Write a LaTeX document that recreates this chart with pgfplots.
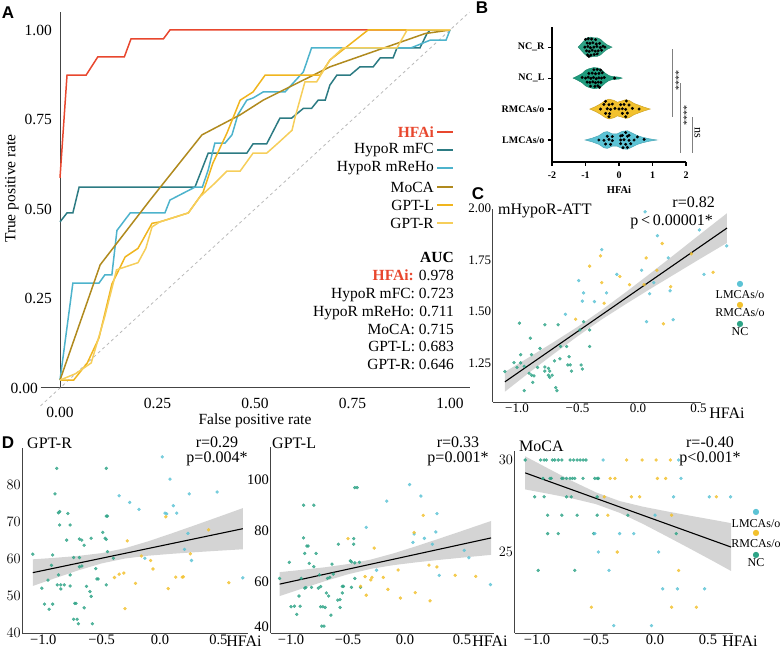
\documentclass[border=0pt]{standalone}
\usepackage{pgfplots}
\pgfplotsset{compat=1.18}
\usepackage{fontspec}
\setmainfont{Liberation Serif}
\newfontfamily\panelfont{Liberation Sans}
\newfontfamily\symfont{DejaVu Sans}

\definecolor{hfai}{HTML}{E8472E}
\definecolor{mfc}{HTML}{2C7B83}
\definecolor{mreho}{HTML}{4DB3CC}
\definecolor{moca}{HTML}{B08A1E}
\definecolor{gptl}{HTML}{F0B51E}
\definecolor{gptr}{HTML}{F6CE5A}
\definecolor{ncg}{HTML}{2FA487}
\definecolor{ncl}{HTML}{1F9C7E}
\definecolor{rmca}{HTML}{F2C12E}
\definecolor{lmca}{HTML}{5CC3D5}
\definecolor{axisgray}{HTML}{444444}

\pgfplotsset{
  scatterpt/.style={only marks, mark=*, mark size=1.5pt, color=#1, opacity=0.8},
  band/.style={fill=gray!45, fill opacity=0.75, draw=none},
  regline/.style={black, line width=1.1pt},
}

\begin{document}
\begin{tikzpicture}[x=1pt,y=1pt]
\useasboundingbox (0,0) rectangle (780,650);

% ---------------- panel letters
\begin{scope}[every node/.style={font=\panelfont\bfseries\fontsize{17}{17}\selectfont}]
\node at (8,637) {A};
\node at (482,642) {B};
\node at (478,456) {C};
\node at (8,207) {D};
\end{scope}

% ================= A: ROC curves =================
\begin{axis}[
  at={(40.5pt,244.1pt)}, anchor=south west, scale only axis,
  width=429pt, height=393.8pt,
  xmin=-0.05, xmax=1.05, ymin=-0.05, ymax=1.05,
  axis line style={draw=none}, major tick length=0pt,
  xtick={0.25,0.5,0.75,1}, xticklabels={0.25,0.50,0.75,1.00},
  ytick={0.25,0.5,0.75,1}, yticklabels={0.25,0.50,0.75,1.00},
  extra x ticks={0}, extra x tick labels={0.00},
  extra y ticks={0}, extra y tick labels={0.00},
  extra x tick style={xticklabel style={yshift=-9pt}},
  extra y tick style={yticklabel style={xshift=-14pt}},
  ticklabel style={font=\fontsize{15.5}{18}\selectfont, inner sep=0pt},
  xticklabel style={anchor=north, yshift=8.4pt},
  yticklabel style={anchor=east, xshift=11.5pt},
  xlabel={False positive rate}, ylabel={True positive rate},
  every axis x label/.style={at={(axis description cs:0.5,0)}, anchor=north, yshift=-7.5pt,
    inner sep=0pt, font=\fontsize{15.5}{18}\selectfont},
  every axis y label/.style={at={(axis description cs:-0.0664,0.552)}, rotate=90, anchor=center,
    inner sep=0pt, font=\fontsize{15.5}{18}\selectfont},
  clip=false,
  every axis plot/.append style={line width=1.5pt},
]
\draw[axisgray, line width=1pt] (axis cs:0,0) -- (axis cs:0,1.05);
\draw[axisgray, line width=1pt] (axis cs:-0.05,0) -- (axis cs:1.05,0);
\addplot[gray!55, dashed, line width=0.8pt] coordinates {(-0.05,-0.05) (1.05,1.05)};

% HFAi
\addplot[color=hfai] coordinates {(0,0.587)(0.018,0.874)(0.067,0.874)(0.097,0.925)(0.165,0.925)(0.182,0.975)(0.265,0.975)(0.282,1)(1,1)};
% HypoR mFC
\addplot[color=mfc] coordinates {(0,0.464)(0.018,0.489)(0.033,0.489)(0.049,0.561)(0.346,0.561)(0.38,0.656)(0.479,0.656)(0.495,0.682)(0.53,0.682)(0.564,0.754)(0.594,0.754)(0.624,0.781)(0.645,0.781)(0.662,0.804)(0.68,0.804)(0.692,0.846)(0.71,0.874)(0.744,0.874)(0.769,0.897)(0.803,0.897)(0.821,0.922)(0.854,0.922)(0.864,0.95)(0.923,0.95)(0.941,0.99)(0.949,1)(1,1)};
% HypoR mReHo
\addplot[color=mreho] coordinates {(0,0.022)(0.033,0.293)(0.1,0.293)(0.115,0.316)(0.133,0.316)(0.146,0.44)(0.18,0.489)(0.269,0.489)(0.282,0.525)(0.346,0.561)(0.365,0.561)(0.38,0.609)(0.397,0.684)(0.423,0.684)(0.441,0.707)(0.456,0.763)(0.479,0.804)(0.495,0.81)(0.521,0.827)(0.577,0.827)(0.624,0.883)(0.645,0.95)(0.90,0.95)(0.95,0.972)(0.99,0.972)(1,1)};
% MoCA
\addplot[color=moca] coordinates {(0,0.022)(0.103,0.344)(0.231,0.525)(0.364,0.707)(0.462,0.763)(0.521,0.804)(0.692,0.897)(0.936,0.99)(1,1)};
% GPT-L
\addplot[color=gptl] coordinates {(0,0.022)(0.035,0.022)(0.07,0.07)(0.10,0.14)(0.133,0.29)(0.167,0.366)(0.2,0.39)(0.236,0.46)(0.256,0.464)(0.329,0.489)(0.367,0.547)(0.392,0.628)(0.428,0.712)(0.462,0.804)(0.495,0.827)(0.526,0.874)(0.667,0.874)(0.692,0.916)(0.79,1)(1,1)};
% GPT-R
\addplot[color=gptr] coordinates {(0,0.022)(0.04,0.04)(0.08,0.07)(0.115,0.2)(0.145,0.33)(0.2,0.35)(0.22,0.39)(0.236,0.45)(0.256,0.464)(0.329,0.489)(0.359,0.534)(0.397,0.572)(0.428,0.606)(0.462,0.606)(0.495,0.656)(0.53,0.656)(0.559,0.684)(0.595,0.72)(0.603,0.757)(0.615,0.804)(0.628,0.855)(0.658,0.855)(0.692,0.916)(0.726,0.95)(0.864,0.95)(0.89,1)(1,1)};
\end{axis}

% legend of the ROC curves (text, then key on the right)
\begin{scope}[every node/.style={anchor=east, inner sep=0pt, font=\fontsize{15.5}{18}\selectfont}]
\node at (434,518) {\textcolor{hfai}{\textbf{HFAi}}};
\draw[hfai, line width=1.5pt] (437,518) -- (453,518);
\node at (434,500) {HypoR mFC};
\draw[mfc, line width=1.5pt] (437,500) -- (453,500);
\node at (434,482) {HypoR mReHo};
\draw[mreho, line width=1.5pt] (437,482) -- (453,482);
\node at (434,463) {MoCA};
\draw[moca, line width=1.5pt] (437,463) -- (453,463);
\node at (434,445) {GPT-L};
\draw[gptl, line width=1.5pt] (437,445) -- (453,445);
\node at (434,427) {GPT-R};
\draw[gptr, line width=1.5pt] (437,427) -- (453,427);
\end{scope}

% AUC summary
\node[anchor=north east, align=right, inner sep=0pt, font=\fontsize{15.5}{17.9}\selectfont] at (454,398)
  {\textbf{AUC}\\ \textcolor{hfai}{\textbf{HFAi:}} 0.978\\ HypoR mFC: 0.723\\ HypoR mReHo: 0.711\\ MoCA: 0.715\\ GPT-L: 0.683\\ GPT-R: 0.646};

% ================= B: violins =================
\begin{axis}[
  at={(552pt,488pt)}, anchor=south west, scale only axis,
  width=134pt, height=135pt,
  xmin=-2, xmax=2, ymin=0.29, ymax=4.65,
  axis x line*=bottom, axis y line*=left,
  axis line style={line width=1.1pt, -},
  xtick={-2,-1,0,1,2}, xticklabels={-2,-1,0,1,2},
  ytick={1,2,3,4}, yticklabels={LMCAs/o,RMCAs/o,NC\_L,NC\_R},
  tick align=outside, major tick length=4pt,
  tick style={line width=1.1pt, black},
  ticklabel style={font=\bfseries\fontsize{10}{12}\selectfont},
  xticklabel style={yshift=-2.5pt},
  xlabel={HFAi}, xlabel style={font=\bfseries\fontsize{10.5}{12}\selectfont, yshift=-1pt},
  clip=false,
]
\addplot[fill=ncg, draw=ncg!85!black, line width=0.5pt] coordinates {
 (-1.22,4)(-1.15,4.08)(-1.05,4.2)(-0.95,4.3)(-0.85,4.32)(-0.75,4.3)(-0.65,4.3)(-0.55,4.25)(-0.45,4.15)(-0.35,4.07)(-0.21,4)
 (-0.35,3.93)(-0.45,3.85)(-0.55,3.75)(-0.65,3.7)(-0.75,3.7)(-0.85,3.68)(-0.95,3.7)(-1.05,3.8)(-1.15,3.92)} -- cycle;
\addplot[fill=ncl, draw=ncl!85!black, line width=0.5pt] coordinates {
 (-1.37,3)(-1.25,3.06)(-1.1,3.15)(-1.0,3.25)(-0.9,3.3)(-0.75,3.34)(-0.6,3.32)(-0.5,3.25)(-0.4,3.15)(-0.3,3.08)(-0.2,3.05)(-0.1,3.04)(0,3.03)(0.09,3)
 (0,2.97)(-0.1,2.96)(-0.2,2.95)(-0.3,2.92)(-0.4,2.85)(-0.5,2.75)(-0.6,2.68)(-0.75,2.66)(-0.9,2.7)(-1.0,2.75)(-1.1,2.85)(-1.25,2.94)} -- cycle;
\addplot[fill=rmca, draw=rmca!85!black, line width=0.5pt] coordinates {
 (-0.87,2)(-0.7,2.08)(-0.55,2.17)(-0.4,2.28)(-0.3,2.32)(-0.15,2.28)(-0.05,2.22)(0.05,2.25)(0.2,2.3)(0.3,2.28)(0.45,2.18)(0.6,2.12)(0.75,2.06)(0.93,2)
 (0.75,1.94)(0.6,1.88)(0.45,1.82)(0.3,1.72)(0.2,1.7)(0.05,1.75)(-0.05,1.78)(-0.15,1.72)(-0.3,1.68)(-0.4,1.72)(-0.55,1.83)(-0.7,1.92)} -- cycle;
\addplot[fill=lmca, draw=lmca!85!black, line width=0.5pt] coordinates {
 (-1.01,1)(-0.8,1.06)(-0.6,1.14)(-0.45,1.25)(-0.35,1.27)(-0.2,1.2)(-0.05,1.2)(0.1,1.28)(0.25,1.3)(0.4,1.22)(0.55,1.14)(0.7,1.09)(0.9,1.04)(1.13,1)
 (0.9,0.96)(0.7,0.91)(0.55,0.86)(0.4,0.78)(0.25,0.7)(0.1,0.72)(-0.05,0.8)(-0.2,0.8)(-0.35,0.73)(-0.45,0.75)(-0.6,0.86)(-0.8,0.94)} -- cycle;
% individual subjects
\addplot[only marks, mark=*, mark size=1.3pt, black] coordinates {
 (-1.0,4.25)(-0.92,4.27)(-0.82,4.26)(-0.7,4.24)(-0.95,4.13)(-0.87,4.12)(-0.78,4.14)(-0.68,4.1)(-0.58,4.12)(-1.02,4.0)(-0.93,4.02)(-0.85,3.98)(-0.75,4.0)(-0.66,4.02)(-0.56,3.99)(-0.48,4.03)(-0.42,4.0)(-0.97,3.88)(-0.89,3.86)(-0.8,3.9)(-0.71,3.87)(-0.62,3.88)(-0.52,3.9)(-0.94,3.75)(-0.84,3.74)(-0.74,3.76)(-0.65,3.78)(-0.9,3.7)
 (-0.75,3.27)(-0.65,3.28)(-0.55,3.26)(-0.9,3.15)(-0.8,3.16)(-0.7,3.14)(-0.6,3.15)(-0.5,3.17)(-1.1,3.02)(-1.0,3.0)(-0.92,3.03)(-0.84,2.99)(-0.76,3.02)(-0.68,2.98)(-0.6,3.01)(-0.52,3.0)(-0.44,3.02)(-0.13,3.0)(-0.95,2.87)(-0.87,2.86)(-0.78,2.88)(-0.7,2.85)(-0.62,2.87)(-0.54,2.86)(-0.85,2.74)(-0.72,2.73)(-0.63,2.75)(-0.58,2.7)
 (-0.4,2.25)(0.22,2.26)(-0.45,2.15)(-0.3,2.14)(-0.2,2.16)(0.05,2.14)(0.15,2.15)(0.3,2.13)(-0.55,2.0)(-0.35,2.01)(-0.25,1.99)(-0.12,2.02)(0.0,2.0)(0.1,2.01)(0.2,1.99)(0.4,2.02)(0.6,2.0)(-0.4,1.86)(-0.28,1.85)(0.1,1.86)(0.25,1.87)(-0.3,1.75)(0.2,1.75)
 (0.2,1.24)(0.1,1.15)(0.3,1.15)(-0.35,1.12)(-0.2,1.11)(0.05,1.13)(0.25,1.12)(0.55,1.1)(-0.6,1.0)(-0.45,0.99)(-0.3,1.02)(-0.2,0.98)(0.05,1.0)(0.15,1.01)(0.3,0.99)(0.45,1.0)(0.75,1.02)(-0.4,0.87)(-0.25,0.86)(0.05,0.88)(0.2,0.86)(0.35,0.88)(0.12,0.75)(0.25,0.76)};
% significance brackets
\draw[gray, line width=0.8pt] (axis cs:1.58,3.935) -- (axis cs:1.58,1.742);
\draw[gray, line width=0.8pt] (axis cs:1.82,2.839) -- (axis cs:1.82,0.581);
\draw[gray, line width=0.8pt] (axis cs:2.18,1.742) -- (axis cs:2.18,0.581);
\node[rotate=-90, font=\fontsize{10}{10}\selectfont, inner sep=0pt] at (axis cs:1.70,2.935) {****};
\node[rotate=-90, font=\fontsize{10}{10}\selectfont, inner sep=0pt] at (axis cs:1.94,1.806) {****};
\node[rotate=-90, font=\fontsize{12}{12}\selectfont, inner sep=0pt] at (axis cs:2.34,1.226) {ns};
\end{axis}

% ================= C: mHypoR-ATT vs HFAi =================
\begin{axis}[
  at={(492.8pt,248pt)}, anchor=south west, scale only axis,
  width=236pt, height=193.5pt,
  xmin=-1.2, xmax=0.75, ymin=1.06, ymax=2.0,
  axis line style={draw=none}, major tick length=0pt,
  xtick={-1,-0.5,0,0.5}, xticklabels={−1.0,−0.5,0.0,0.5},
  ytick={1.25,1.5,1.75,2}, yticklabels={1.25,1.50,1.75,2.00},
  ticklabel style={font=\fontsize{13}{14}\selectfont, inner sep=1.5pt},
  clip=false,
]
\draw[axisgray, line width=0.9pt] (axis cs:-1.2,1.06) -- (axis cs:-1.2,2.0);
\draw[axisgray, line width=0.9pt] (axis cs:-1.2,1.06) -- (axis cs:0.52,1.06);
\addplot[scatterpt=ncg] coordinates {(-1.10,1.208)(-0.98,1.443)(-1.025,1.251)(-1.0,1.228)(-0.97,1.29)(-0.97,1.25)(-0.94,1.233)(-0.94,1.115)(-0.89,1.37)(-0.88,1.29)(-0.90,1.20)(-0.88,1.19)(-0.86,1.187)(-0.87,1.155)(-0.83,1.228)(-0.81,1.32)(-0.77,1.435)(-0.77,1.23)(-0.77,1.21)(-0.74,1.223)(-0.74,1.19)(-0.73,1.21)(-0.73,1.18)(-0.71,1.19)(-0.69,1.26)(-0.68,1.13)(-0.66,1.435)(-0.67,1.115)(-0.645,1.27)(-0.64,1.33)(-0.59,1.33)(-0.58,1.24)(-0.57,1.28)(-0.56,1.24)(-0.55,1.21)(-0.48,1.41)(-0.47,1.24)(-0.46,1.22)(-0.45,1.45)(-0.40,1.41)(-0.40,1.33)};
\addplot[scatterpt=lmca] coordinates {(-0.60,1.486)(-0.49,1.65)(-0.46,1.55)(-0.45,1.59)(-0.36,1.548)(-0.26,1.59)(-0.175,1.68)(-0.30,1.80)(0.03,1.70)(0.07,1.45)(0.096,1.586)(0.13,1.64)(0.25,1.76)(0.265,1.60)(0.29,1.46)(0.545,1.68)(0.058,1.984)(0.16,1.868)(0.733,1.818)(0.507,1.896)};
\addplot[scatterpt=rmca] coordinates {(-0.515,1.462)(-0.40,1.72)(-0.31,1.77)(-0.30,1.64)(-0.28,1.54)(-0.15,1.67)(-0.07,1.63)(0.067,1.76)(0.05,1.63)(0.155,1.70)(0.21,1.44)(0.27,1.62)(0.62,1.69)(0.44,1.78)(0.2,1.83)};
\addplot[band] coordinates {(-1.1,1.206)(-0.9,1.2775)(-0.7,1.350)(-0.5,1.425)(-0.3,1.507)(-0.1,1.594)(0.1,1.684)(0.3,1.776)(0.5,1.869)(0.735,1.977)
 (0.735,1.833)(0.5,1.751)(0.3,1.680)(0.1,1.609)(-0.1,1.536)(-0.3,1.461)(-0.5,1.379)(-0.7,1.292)(-0.9,1.2025)(-1.1,1.110)} -- cycle;
\addplot[regline] coordinates {(-1.1,1.158)(0.735,1.905)};
\end{axis}
\node[anchor=west, inner sep=0pt, font=\fontsize{16}{18}\selectfont] at (498,439) {mHypoR-ATT};
\node[anchor=east, inner sep=0pt, font=\fontsize{16}{18}\selectfont] at (715,448) {r=0.82};
\node[anchor=east, inner sep=0pt, font=\fontsize{16}{18}\selectfont] at (713,428) {p\,<\,0.00001*};
\node[inner sep=0pt, font=\fontsize{16}{18}\selectfont] at (727,237) {HFAi};
\node[inner sep=0pt, text=lmca, font=\symfont\fontsize{8}{8}\selectfont] at (740,366) {●};
\node[inner sep=0pt, font=\fontsize{12}{12}\selectfont] at (740,355) {LMCAs/o};
\node[inner sep=0pt, text=rmca, font=\symfont\fontsize{8}{8}\selectfont] at (740,345) {●};
\node[inner sep=0pt, font=\fontsize{12}{12}\selectfont] at (740,337) {RMCAs/o};
\node[inner sep=0pt, text=ncg, font=\symfont\fontsize{8}{8}\selectfont] at (740,326) {●};
\node[inner sep=0pt, font=\fontsize{12}{12}\selectfont] at (740,318) {NC};

% ================= D panels: clinical scores vs HFAi =================
\pgfplotsset{dpanel/.style={
  scale only axis, anchor=south west,
  axis x line*=bottom, axis y line*=left,
  axis line style={axisgray, line width=0.9pt, -},
  major tick length=0pt,
  xtick={-1,-0.5,0,0.5}, xticklabels={−1.0,−0.5,0.0,0.5},
  ticklabel style={font=\fontsize{14.5}{16}\selectfont, inner sep=1.5pt},
  clip=false,
}}
\begin{axis}[dpanel,
  at={(22.3pt,17pt)}, width=225.2pt, height=185pt,
  xmin=-1.18, xmax=0.75, ymin=40, ymax=90,
  ytick={40,50,60,70,80},
]
\addplot[scatterpt=ncg] coordinates {(-1.09,61.3)(-1.013,52.1)(-0.99,47.8)(-0.96,54.3)(-0.95,46.4)(-0.93,58.3)(-0.92,61.1)(-0.92,47.8)(-0.88,53.0)(-0.87,55.7)(-0.87,72.5)(-0.86,69.2)(-0.86,72.8)(-0.85,51.9)(-0.85,53.0)(-0.82,53.0)(-0.80,65.1)(-0.79,72.3)(-0.77,69.2)(-0.77,55.7)(-0.77,52.7)(-0.74,60.4)(-0.74,43.7)(-0.73,48.0)(-0.72,48.0)(-0.71,43.7)(-0.70,42.5)(-0.69,57.9)(-0.69,60.4)(-0.69,65.4)(-0.67,65.1)(-0.67,58.1)(-0.65,63.7)(-0.65,46.8)(-0.63,52.6)(-0.60,51.2)(-0.59,49.9)(-0.59,65.6)(-0.58,42.5)(-0.55,57.4)(-0.54,54.6)(-0.53,54.6)(-0.49,67.2)(-0.47,65.6)(-0.46,71.6)(-0.46,65.3)(-0.45,71.6)(-0.46,53.0)(-0.45,62.0)(-0.40,60.2)(-0.885,84.5)(-0.46,84.5)(-0.90,77.6)};
\addplot[scatterpt=lmca] coordinates {(0.02,87.6)(0.086,81.6)(-0.35,77.1)(-0.26,75.3)(-0.18,73.4)(0.043,72.4)(0.057,72.2)(0.114,74.4)(0.143,72.4)(0.21,62.6)(0.25,77.6)(0.27,59.6)(0.49,78.1)(0.71,54.9)(0.24,66.9)(-0.13,60.2)};
\addplot[scatterpt=rmca] coordinates {(-0.28,64.9)(-0.39,55.0)(-0.35,55.9)(-0.31,56.2)(-0.30,46.6)(-0.21,53.4)(-0.16,60.8)(-0.08,59.6)(-0.06,57.3)(0.05,71.4)(0.07,52.0)(0.135,55.1)(0.19,55.1)(0.2,55.2)(0.26,61.4)(0.416,67.9)(0.59,53.6)};
\addplot[band] coordinates {(-1.09,59.91)(-0.9,60.32)(-0.7,60.83)(-0.5,61.59)(-0.3,62.91)(-0.1,64.79)(0.1,66.92)(0.3,69.13)(0.5,71.37)(0.71,73.75)
 (0.71,62.63)(0.5,62.23)(0.3,61.83)(0.1,61.40)(-0.1,60.89)(-0.3,60.13)(-0.5,58.81)(-0.7,56.93)(-0.9,54.80)(-1.09,52.71)} -- cycle;
\addplot[regline] coordinates {(-1.09,56.31)(0.71,68.19)};
\end{axis}

\begin{axis}[dpanel,
  at={(270.5pt,17pt)}, width=223.4pt, height=186.2pt,
  xmin=-1.18, xmax=0.78, ymin=40, ymax=113,
  ytick={40,60,80,100}, yticklabels={\smash{\raisebox{1.5pt}{40}},60,80,100},
]
\addplot[scatterpt=ncg] coordinates {(-1.10,61.4)(-1.015,67.7)(-1.0,50.3)(-0.97,50.5)(-0.95,47.3)(-0.93,54.5)(-0.92,50.5)(-0.91,61.4)(-0.89,77.3)(-0.89,90.1)(-0.88,71.2)(-0.88,57.6)(-0.87,57.8)(-0.86,74.1)(-0.85,74.1)(-0.84,67.3)(-0.82,57.9)(-0.80,66.0)(-0.80,90.1)(-0.78,71.2)(-0.76,57.6)(-0.75,62.8)(-0.74,58.2)(-0.74,50.3)(-0.73,42.7)(-0.72,50.3)(-0.71,42.7)(-0.70,50.0)(-0.69,55.7)(-0.68,61.4)(-0.67,54.5)(-0.66,61.8)(-0.65,47.0)(-0.64,67.0)(-0.63,63.1)(-0.59,52.9)(-0.585,74.8)(-0.57,53.1)(-0.57,50.0)(-0.55,55.7)(-0.55,58.3)(-0.54,58.3)(-0.48,68.3)(-0.47,67.9)(-0.47,57.9)(-0.45,77.0)(-0.45,74.8)(-0.44,61.4)(-0.44,97.0)(-0.42,97.0)(-0.44,67.5)(-0.40,67.7)(-0.39,57.9)};
\addplot[scatterpt=lmca] coordinates {(-0.34,81.4)(-0.16,91.7)(-0.25,64.6)(0.04,98.2)(0.07,75.5)(0.08,78.8)(0.14,93.7)(0.17,77.1)(0.24,74.8)(0.27,79.6)(0.28,86.8)(0.30,62.6)(0.52,72.4)(0.56,69.5)(0.75,59.0)};
\addplot[scatterpt=rmca] coordinates {(-0.50,77.0)(-0.39,58.3)(-0.35,62.1)(-0.34,54.8)(-0.30,60.8)(-0.29,61.8)(-0.27,73.3)(-0.19,61.8)(-0.15,57.1)(-0.06,64.7)(-0.04,53.7)(0.08,79.4)(0.09,55.8)(0.16,86.1)(0.21,66.6)(0.22,52.6)(0.28,65.9)(0.44,62.6)(0.62,62.2)};
\addplot[band] coordinates {(-1.1,63.86)(-0.9,64.78)(-0.7,65.78)(-0.5,67.02)(-0.3,68.79)(-0.1,71.23)(0.1,74.05)(0.3,77.0)(0.5,80.02)(0.755,83.91)
 (0.755,70.63)(0.5,69.54)(0.3,68.66)(0.1,67.71)(-0.1,66.61)(-0.3,65.15)(-0.5,63.02)(-0.7,60.36)(-0.9,57.46)(-1.1,54.46)} -- cycle;
\addplot[regline] coordinates {(-1.1,59.16)(0.755,77.27)};
\end{axis}

\begin{axis}[dpanel,
  at={(514.6pt,17pt)}, width=218.3pt, height=182.2pt,
  xmin=-1.19, xmax=0.66, ymin=20.6, ymax=30.5,
  ytick={25,30},
  xticklabels={−1.0,−0.5,0.0,\hspace*{-12pt}0.5},
]
\addplot[scatterpt=ncg] coordinates {(-1.10,30)(-0.97,30)(-0.94,30)(-0.92,30)(-0.87,30)(-0.85,30)(-0.82,30)(-0.79,30)(-0.72,30)(-0.69,30)(-0.66,30)(-0.635,30)(-0.61,30)(-0.585,30)
 (-0.95,29)(-0.89,29)(-0.88,29)(-0.79,29)(-0.78,29)(-0.75,29)(-0.72,29)(-0.70,29)(-0.68,29)(-0.61,29)(-0.51,29)(-0.49,29)(-0.48,29)
 (-1.02,28)(-0.94,28)(-0.75,28)(-0.71,28)(-0.49,28)
 (-0.91,27)(-0.79,27)(-0.66,27)(-0.49,27)(-0.23,27)
 (-0.91,26)(-0.82,26)(-0.52,26)(0.18,26)
 (-0.99,24)(-0.68,24)};
\addplot[scatterpt=lmca] coordinates {(-0.44,30)(0.20,30)(0.22,29)(0.157,28)(0.46,28)(0.64,28)(0.0,27)(-0.51,26)(-0.30,26)(-0.18,26)(-0.48,25)(0.03,25)(-0.39,24)(0.065,23)(0.19,23)(0.42,23)(-0.35,21)(-0.03,21)};
\addplot[scatterpt=rmca] coordinates {(-0.24,30)(-0.11,30)(0.01,30)(0.13,30)(-0.38,29)(-0.34,29)(0.02,29)(0.09,29)(-0.43,28)(-0.2,28)(-0.13,28)(0.52,28)(-0.40,27)(0.14,27)(-0.32,25)(0.20,24)(-0.54,22)(0.14,22)(0.35,22)};
\addplot[band] coordinates {(-1.1,30.20)(-0.9,29.52)(-0.7,28.85)(-0.5,28.24)(-0.3,27.77)(-0.1,27.46)(0.1,27.21)(0.3,26.97)(0.5,26.74)(0.644,26.57)
 (0.644,23.97)(0.5,24.48)(0.3,25.17)(0.1,25.85)(-0.1,26.52)(-0.3,27.13)(-0.5,27.60)(-0.7,27.91)(-0.9,28.16)(-1.1,28.40)} -- cycle;
\addplot[regline] coordinates {(-1.1,29.30)(0.644,25.27)};
\end{axis}

% D panel annotations
\begin{scope}[every node/.style={inner sep=0pt, font=\fontsize{16}{18}\selectfont}]
\node[anchor=west] at (27,207) {GPT-R};
\node at (217,208) {r=0.29};
\node at (217,191) {p=0.004*};
\node at (244,8.5) {HFAi};
\node[anchor=west] at (272,207) {GPT-L};
\node at (458,208) {r=0.33};
\node at (458,191) {p=0.001*};
\node at (490,9) {HFAi};
\node[anchor=west] at (519,204) {MoCA};
\node at (710,208) {r=-0.40};
\node at (710,191) {p<0.001*};
\node at (740,9) {HFAi};
\end{scope}
\node[inner sep=0pt, text=lmca, font=\symfont\fontsize{8}{8}\selectfont] at (756,138) {●};
\node[inner sep=0pt, font=\fontsize{12}{12}\selectfont] at (756,126) {LMCAs/o};
\node[inner sep=0pt, text=rmca, font=\symfont\fontsize{8}{8}\selectfont] at (756,117) {●};
\node[inner sep=0pt, font=\fontsize{12}{12}\selectfont] at (756,106) {RMCAs/o};
\node[inner sep=0pt, text=ncg, font=\symfont\fontsize{8}{8}\selectfont] at (756,95) {●};
\node[inner sep=0pt, font=\fontsize{12}{12}\selectfont] at (756,87) {NC};
\end{tikzpicture}
\end{document}
